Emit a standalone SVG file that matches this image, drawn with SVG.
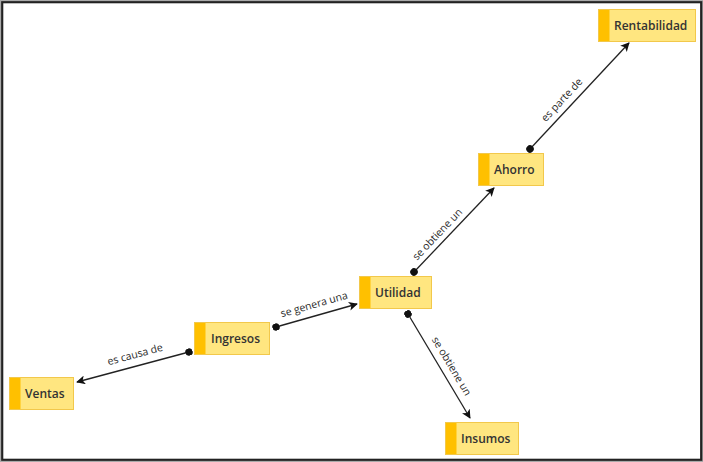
<svg xmlns="http://www.w3.org/2000/svg" width="703" height="462" viewBox="0 0 703 462">
<style>
.node rect.box{fill:#FFE680;stroke:#F2C84B;stroke-width:1}
.node rect.stripe{fill:#FFC000}
.node text{font-family:"Open Sans","Liberation Sans",sans-serif;font-weight:600;font-size:12px;fill:#333;dominant-baseline:central}
.conn line{stroke:#222;stroke-width:1.3}
.lbl{font-family:"Open Sans","Liberation Sans",sans-serif;font-size:10.5px;fill:#2a2a2a;text-anchor:middle;dominant-baseline:central}
</style>
<defs>
<marker id="arr" viewBox="0 0 10 10" refX="9" refY="5" markerWidth="9" markerHeight="9" markerUnits="userSpaceOnUse" orient="auto">
<path d="M0,0 L10,5 L0,10 L2.5,5 z" fill="#111"/>
</marker>
<marker id="dot" viewBox="0 0 10 10" refX="5" refY="5" markerWidth="7.5" markerHeight="7.5" markerUnits="userSpaceOnUse" orient="auto">
<circle cx="5" cy="5" r="5" fill="#111"/>
</marker>
</defs>
<rect x="0" y="0" width="703" height="462" fill="#fff"/>
<rect x="0.5" y="0.5" width="702" height="461" fill="none" stroke="#aaa" stroke-width="1"/>
<rect x="2.2" y="2.2" width="699" height="457.6" fill="none" stroke="#222" stroke-width="2.2"/>

<g id="connectors" class="conn">
<line x1="189" y1="352" x2="77" y2="382" marker-start="url(#dot)" marker-end="url(#arr)"/>
<line x1="276" y1="327" x2="357" y2="304" marker-start="url(#dot)" marker-end="url(#arr)"/>
<line x1="414" y1="272" x2="494" y2="188" marker-start="url(#dot)" marker-end="url(#arr)"/>
<line x1="530" y1="149" x2="629" y2="43" marker-start="url(#dot)" marker-end="url(#arr)"/>
<line x1="408" y1="314" x2="470" y2="418" marker-start="url(#dot)" marker-end="url(#arr)"/>
<text class="lbl" transform="translate(135,354) rotate(-15)">es causa de</text>
<text class="lbl" transform="translate(314,304) rotate(-15.9)">se genera una</text>
<text class="lbl" transform="translate(437,234) rotate(-46.4)">se obtiene un</text>
<text class="lbl" transform="translate(561.5,99.5) rotate(-47)">es parte de</text>
<text class="lbl" transform="translate(452,366) rotate(59.2)">se obtiene un</text>
</g>

<g id="rentabilidad" class="node">
<rect class="box" x="598.5" y="9.5" width="97" height="32"/>
<rect class="stripe" x="599" y="10" width="10.5" height="31"/>
<text x="614" y="25.5">Rentabilidad</text>
</g>
<g id="ahorro" class="node">
<rect class="box" x="478.5" y="153.5" width="65" height="32"/>
<rect class="stripe" x="479" y="154" width="10.5" height="31"/>
<text x="494" y="169.5">Ahorro</text>
</g>
<g id="utilidad" class="node">
<rect class="box" x="359.5" y="276.5" width="72" height="32"/>
<rect class="stripe" x="360" y="277" width="10.5" height="31"/>
<text x="375" y="292.5">Utilidad</text>
</g>
<g id="ingresos" class="node">
<rect class="box" x="194.5" y="322.5" width="75" height="32"/>
<rect class="stripe" x="195" y="323" width="10.5" height="31"/>
<text x="211" y="338.5">Ingresos</text>
</g>
<g id="ventas" class="node">
<rect class="box" x="9.5" y="377.5" width="64" height="32"/>
<rect class="stripe" x="10" y="378" width="10.5" height="31"/>
<text x="25" y="393.5">Ventas</text>
</g>
<g id="insumos" class="node">
<rect class="box" x="445.5" y="422.5" width="73" height="32"/>
<rect class="stripe" x="446" y="423" width="10.5" height="31"/>
<text x="461" y="438.5">Insumos</text>
</g>
</svg>
